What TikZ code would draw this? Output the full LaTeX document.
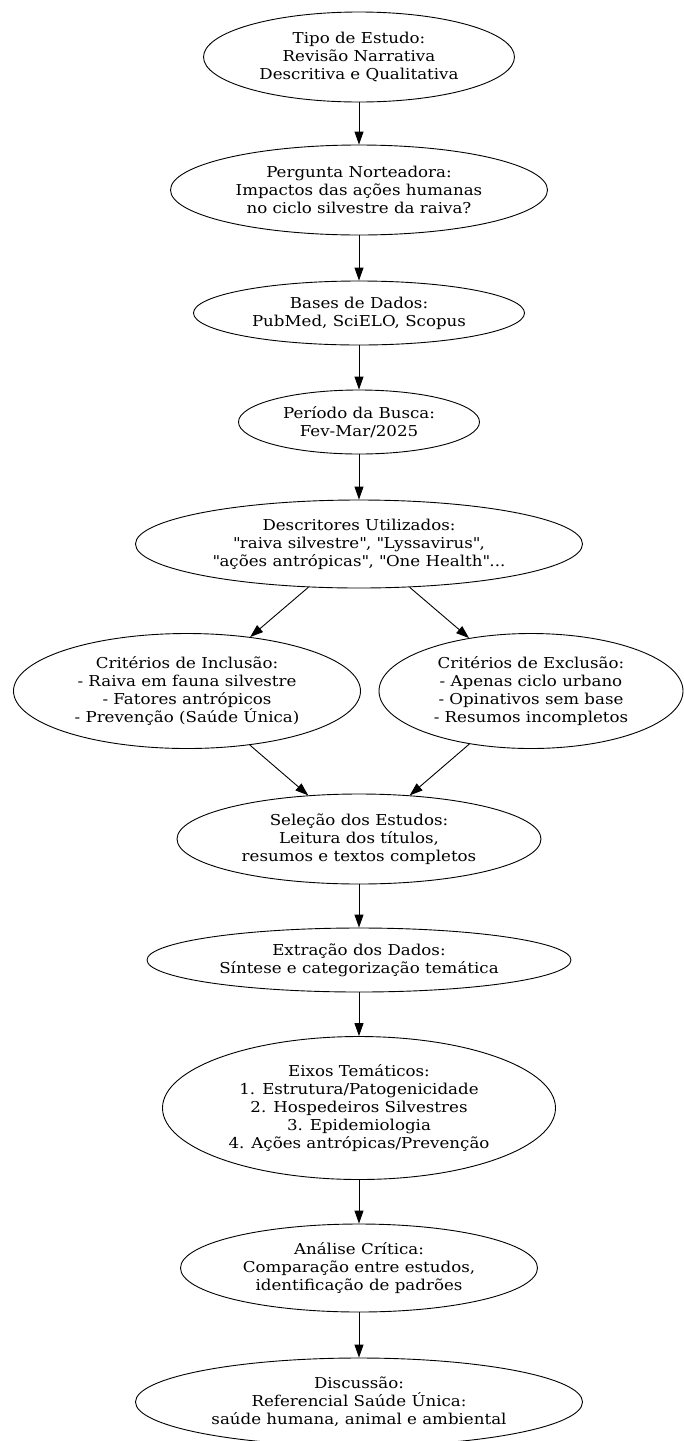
\documentclass[tikz,border=0pt]{standalone}
\usepackage{fontspec}
\setmainfont{DejaVu Serif}[FakeStretch=1.11]
\usetikzlibrary{shapes.geometric,arrows.meta}
\begin{document}
\begin{tikzpicture}[x=1pt,y=-1pt,
    etapa/.style={draw,ellipse,inner sep=0pt,align=center,line width=0.9pt,
        font=\fontsize{15}{18}\selectfont},
    seta/.style={-{Triangle[length=13pt,width=9pt]},line width=0.9pt}]
    \useasboundingbox (0,0) rectangle (684,1441);
    \node[etapa,minimum width=311pt,minimum height=90pt] (tipo) at (359,57) {Tipo de Estudo:\\Revisão Narrativa\\Descritiva e Qualitativa};
    \node[etapa,minimum width=377pt,minimum height=90pt] (pergunta) at (359,190) {Pergunta Norteadora:\\Impactos das ações humanas\\no ciclo silvestre da raiva?};
    \node[etapa,minimum width=331pt,minimum height=64pt] (bases) at (359,313) {Bases de Dados:\\PubMed, SciELO, Scopus};
    \node[etapa,minimum width=241pt,minimum height=64pt] (periodo) at (359,422) {Período da Busca:\\Fev-Mar/2025};
    \node[etapa,minimum width=447pt,minimum height=88pt] (descritores) at (359,544) {Descritores Utilizados:\\\textquotedbl raiva silvestre\textquotedbl, \textquotedbl Lyssavirus\textquotedbl,\\\textquotedbl ações antrópicas\textquotedbl, \textquotedbl One Health\textquotedbl...};
    \node[etapa,minimum width=347pt,minimum height=115pt] (inclusao) at (187,691) {Critérios de Inclusão:\\- Raiva em fauna silvestre\\- Fatores antrópicos\\- Prevenção (Saúde Única)};
    \node[etapa,minimum width=304pt,minimum height=115pt] (exclusao) at (531,691) {Critérios de Exclusão:\\- Apenas ciclo urbano\\- Opinativos sem base\\- Resumos incompletos};
    \node[etapa,minimum width=364pt,minimum height=90pt] (selecao) at (359,839) {Seleção dos Estudos:\\Leitura dos títulos,\\resumos e textos completos};
    \node[etapa,minimum width=424pt,minimum height=64pt] (extracao) at (359,960) {Extração dos Dados:\\Síntese e categorização temática};
    \node[etapa,minimum width=393pt,minimum height=143pt] (eixos) at (359,1108) {Eixos Temáticos:\\1. Estrutura/Patogenicidade\\2. Hospedeiros Silvestres\\3. Epidemiologia\\4. Ações antrópicas/Prevenção};
    \node[etapa,minimum width=357pt,minimum height=88pt] (analise) at (359,1268) {Análise Crítica:\\Comparação entre estudos,\\identificação de padrões};
    \node[etapa,minimum width=447pt,minimum height=88pt] (discussao) at (359,1402) {Discussão:\\Referencial Saúde Única:\\saúde humana, animal e ambiental};
    \draw[seta] (tipo) -- (pergunta);
    \draw[seta] (pergunta) -- (bases);
    \draw[seta] (bases) -- (periodo);
    \draw[seta] (periodo) -- (descritores);
    \draw[seta] (descritores) -- (inclusao);
    \draw[seta] (descritores) -- (exclusao);
    \draw[seta] (inclusao) -- (selecao);
    \draw[seta] (exclusao) -- (selecao);
    \draw[seta] (selecao) -- (extracao);
    \draw[seta] (extracao) -- (eixos);
    \draw[seta] (eixos) -- (analise);
    \draw[seta] (analise) -- (discussao);
\end{tikzpicture}
\end{document}
